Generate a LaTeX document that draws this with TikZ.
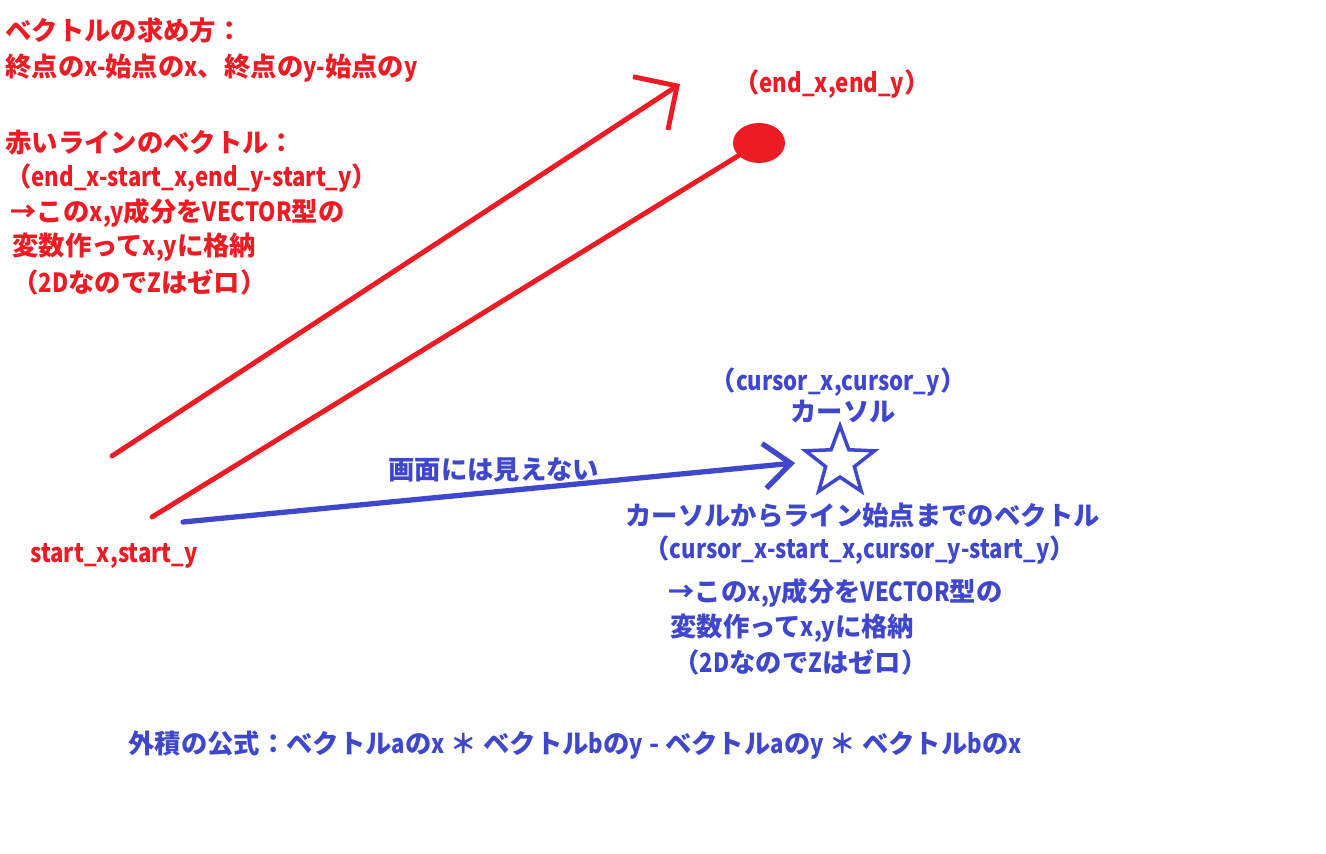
\documentclass[tikz,border=0pt]{standalone}
\usepackage{fontspec}
\setmainfont{Noto Sans CJK JP}
\usetikzlibrary{arrows.meta,shapes.geometric}
\definecolor{pred}{HTML}{ED1C24}
\definecolor{pblue}{HTML}{3F48CC}
% narrower latin runs
\newcommand\lt[1]{{\addfontfeatures{FakeStretch=0.84}#1}}

\begin{document}
\begin{tikzpicture}[
    x=0.02cm, y=-0.02cm,
    every node/.style={font=\fontsize{15}{17}\selectfont\bfseries, inner sep=0pt},
    redtxt/.style={text=pred, anchor=west},
    bluetxt/.style={text=pblue, anchor=west},
    redline/.style={draw=pred, line width=2.8pt, line cap=round},
    blueline/.style={draw=pblue, line width=3pt, line cap=round},
    barb/.style={-{Straight Barb[angle=#1]}}
  ]
    \useasboundingbox[fill=white] (0,0) rectangle (1326,854);

    %% ---- red notes: vector of the red line ----
    \node[redtxt] (r1) at (5,30)   {ベクトルの求め方：};
    \node[redtxt] (r2) at (5,68)   {終点の\lt{x-}始点の\lt{x}、終点の\lt{y-}始点の\lt{y}};
    \node[redtxt] (r3) at (5,143)  {赤いラインのベクトル：};
    \node[redtxt] (r4) at (5,178)  {（\lt{end\_x-start\_x,end\_y-start\_y}）};
    \node[redtxt] (r5) at (10,213) {→この\lt{x,y}成分を\lt{VECTOR}型の};
    \node[redtxt] (r6) at (12,247) {変数作って\lt{x,y}に格納};
    \node[redtxt] (r7) at (12,282) {（\lt{2D}なので\lt{Z}はゼロ）};

    \node[redtxt] (endlbl) at (733,84)    {（\lt{end\_x,end\_y}）};
    \node[redtxt] (startlbl) at (30,556) {\lt{start\_x,start\_y}};

    %% ---- red line and its direction ----
    \coordinate (a0) at (112,456);
    \coordinate (a1) at (680,84);
    \draw[redline, barb=90:0.9cm] (a0) -- (a1);

    \node[ellipse, fill=pred, minimum width=1.04cm, minimum height=0.8cm] (enddot) at (759,143) {};
    \coordinate (s0) at (152,517);
    \draw[redline] (s0) -- (enddot);

    %% ---- cursor ----
    \node[draw=pblue, line width=2pt, star, star points=5, star point ratio=2.4,
          minimum size=1.45cm] (cursor) at (840,462) {};
    \node[text=pblue] (cursorxy) at (838,382) {（\lt{cursor\_x,cursor\_y}）};
    \node[text=pblue] (cursorlbl) at (843,412) {カーソル};

    \coordinate (b0) at (183,522);
    \coordinate (b1) at (795,463);
    \draw[blueline, barb=80:0.7cm] (b0) -- (b1);
    \node[bluetxt] (hidden) at (388,470) {画面には見えない};

    %% ---- blue notes: cursor to line start ----
    \node[bluetxt] (c1) at (625,516) {カーソルからライン始点までのベクトル};
    \node[bluetxt] (c2) at (643,550) {（\lt{cursor\_x-start\_x,cursor\_y-start\_y}）};
    \node[bluetxt] (c3) at (668,593) {→この\lt{x,y}成分を\lt{VECTOR}型の};
    \node[bluetxt] (c4) at (670,628) {変数作って\lt{x,y}に格納};
    \node[bluetxt] (c5) at (673,662) {（\lt{2D}なので\lt{Z}はゼロ）};

    %% ---- cross product ----
    \node[bluetxt] (formula) at (128,745) {外積の公式：ベクトル\lt{a}の\lt{x} ＊ ベクトル\lt{b}の\lt{y} - ベクトル\lt{a}の\lt{y} ＊ ベクトル\lt{b}の\lt{x}};
\end{tikzpicture}
\end{document}
